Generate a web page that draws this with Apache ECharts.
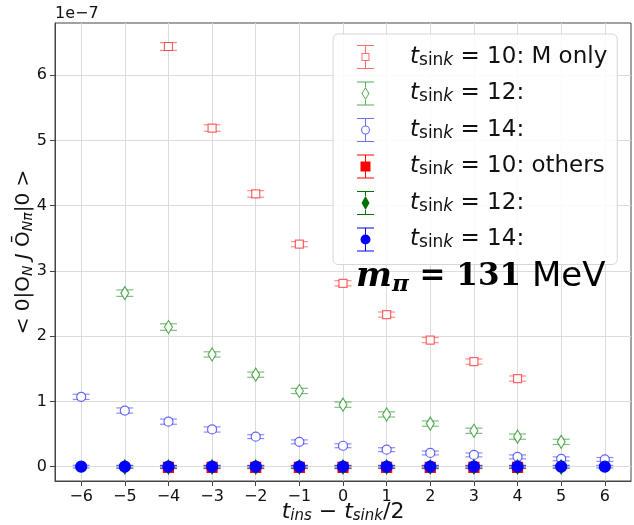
<!DOCTYPE html>
<html>
<head>
<meta charset="utf-8">
<script src="https://cdn.jsdelivr.net/npm/echarts@6/dist/echarts.min.js"></script>
<style>
  html, body { margin: 0; padding: 0; background: #fff; }
  #chart { width: 634px; height: 525px; }
</style>
</head>
<body>
<div id="chart"></div>
<script>
// Matrix element <0|O_N J Ō_Nπ|0> (units of 1e-7) vs insertion time
const xTicks = [-6, -5, -4, -3, -2, -1, 0, 1, 2, 3, 4, 5, 6];
const yTicks = [0, 1, 2, 3, 4, 5, 6];

// t_sink = 10 (x = -4..4), 12 (x = -5..5), 14 (x = -6..6)
const tIns10 = [-4, -3, -2, -1, 0, 1, 2, 3, 4];
const tIns12 = [-5, -4, -3, -2, -1, 0, 1, 2, 3, 4, 5];
const tIns14 = [-6, -5, -4, -3, -2, -1, 0, 1, 2, 3, 4, 5, 6];

// "M only" contribution
const mOnly10 = [6.44, 5.19, 4.18, 3.41, 2.81, 2.33, 1.94, 1.61, 1.35];
const mOnly10Err = [0.06, 0.05, 0.05, 0.04, 0.04, 0.04, 0.04, 0.04, 0.04];
const mOnly12 = [2.66, 2.14, 1.72, 1.41, 1.16, 0.95, 0.80, 0.66, 0.55, 0.46, 0.38];
const mOnly12Err = [0.05, 0.05, 0.04, 0.04, 0.04, 0.04, 0.04, 0.04, 0.04, 0.04, 0.04];
const mOnly14 = [1.07, 0.86, 0.69, 0.57, 0.46, 0.38, 0.32, 0.26, 0.21, 0.18, 0.15, 0.12, 0.11];
const mOnly14Err = [0.04, 0.04, 0.04, 0.04, 0.03, 0.03, 0.03, 0.03, 0.03, 0.03, 0.03, 0.03, 0.03];

// remaining contributions
const others10 = [-0.01, -0.01, -0.01, -0.01, -0.01, -0.01, -0.01, -0.01, -0.01];
const others10Err = [0.02, 0.02, 0.02, 0.02, 0.02, 0.02, 0.02, 0.02, 0.02];
const others12 = [-0.005, -0.005, -0.005, -0.005, -0.005, -0.005, -0.005, -0.005, -0.005, -0.005, -0.005];
const others12Err = [0.02, 0.02, 0.02, 0.02, 0.02, 0.02, 0.02, 0.02, 0.02, 0.02, 0.02];
const others14 = [0.0, 0.0, 0.0, 0.0, 0.0, 0.0, 0.0, 0.0, 0.0, 0.0, 0.0, 0.0, 0.0];
const others14Err = [0.02, 0.02, 0.02, 0.02, 0.02, 0.02, 0.02, 0.02, 0.02, 0.02, 0.02, 0.02, 0.02];

const legendText = {
  M10: '{t|t}{s|sin}{k|k}{n| = 10: M only}',
  M12: '{t|t}{s|sin}{k|k}{n| = 12:}',
  M14: '{t|t}{s|sin}{k|k}{n| = 14:}',
  O10: '{t|t}{s|sin}{k|k}{n| = 10: others}',
  O12: '{t|t}{s|sin}{k|k}{n| = 12:}',
  O14: '{t|t}{s|sin}{k|k}{n| = 14:}'
};

function rows(xs, ys, es) {
  return xs.map((x, i) => [x, ys[i], es[i]]);
}

function errorBars(cap, color, width) {
  return function (params, api) {
    const x = api.value(0), y = api.value(1), e = api.value(2);
    const hi = api.coord([x, y + e]);
    const lo = api.coord([x, y - e]);
    const style = { stroke: color, lineWidth: width, fill: null };
    return {
      type: 'group',
      children: [
        { type: 'line', shape: { x1: hi[0], y1: hi[1], x2: lo[0], y2: lo[1] }, style: style },
        { type: 'line', shape: { x1: hi[0] - cap, y1: hi[1], x2: hi[0] + cap, y2: hi[1] }, style: style },
        { type: 'line', shape: { x1: lo[0] - cap, y1: lo[1], x2: lo[0] + cap, y2: lo[1] }, style: style }
      ]
    };
  };
}

// legend glyphs: error bar with marker, 170 x 240 box
const capTop = 'M0 0H170V10H0Z';
const capBot = 'M0 230H170V240H0Z';
function stems(top, bot) {
  return 'M80 10H90V' + top + 'H80Z M80 ' + bot + 'H90V230H80Z';
}
const icons = {
  M10: 'path://' + capTop + capBot + stems(80, 160) +
       'M45 80H125V160H45Z M55 90V150H115V90Z',
  M12: 'path://' + capTop + capBot + stems(55, 185) +
       'M85 55L125 120L85 185L45 120Z M85 70L56 120L85 170L114 120Z',
  M14: 'path://' + capTop + capBot + stems(75, 165) +
       'M40 120A45 45 0 1 1 130 120A45 45 0 1 1 40 120Z M51 120A34 34 0 1 0 119 120A34 34 0 1 0 51 120Z',
  O10: 'path://' + capTop + capBot + stems(70, 170) + 'M35 70H135V170H35Z',
  O12: 'path://' + capTop + capBot + stems(50, 190) + 'M85 50L125 120L85 190L45 120Z',
  O14: 'path://' + capTop + capBot + stems(70, 170) +
       'M35 120A50 50 0 1 1 135 120A50 50 0 1 1 35 120Z'
};

const sets = [
  { name: 'M10', data: rows(tIns10, mOnly10, mOnly10Err), symbol: 'rect', size: 8,
    edge: 'rgba(255,0,0,0.6)', face: '#ffffff', bar: 'rgba(255,0,0,0.45)', legend: 'rgba(255,60,60,0.75)' },
  { name: 'M12', data: rows(tIns12, mOnly12, mOnly12Err), symbol: 'diamond', size: [8, 13],
    edge: 'rgba(0,128,0,0.65)', face: '#ffffff', bar: 'rgba(0,128,0,0.5)', legend: 'rgba(40,150,40,0.8)' },
  { name: 'M14', data: rows(tIns14, mOnly14, mOnly14Err), symbol: 'circle', size: 9,
    edge: 'rgba(0,0,255,0.6)', face: '#ffffff', bar: 'rgba(0,0,255,0.45)', legend: 'rgba(60,60,255,0.75)' },
  { name: 'O10', data: rows(tIns10, others10, others10Err), symbol: 'rect', size: 10,
    edge: '#ff0000', face: '#ff0000', bar: 'rgba(255,0,0,0.5)', legend: '#ff0000' },
  { name: 'O12', data: rows(tIns12, others12, others12Err), symbol: 'diamond', size: [8, 14],
    edge: '#007000', face: '#007000', bar: 'rgba(0,128,0,0.5)', legend: '#007000' },
  { name: 'O14', data: rows(tIns14, others14, others14Err), symbol: 'circle', size: 11,
    edge: '#0000ff', face: '#0000ff', bar: 'rgba(0,0,255,0.5)', legend: '#0000ff' }
];

const series = [];
sets.forEach((s, k) => {
  series.push({
    name: s.name,
    type: 'custom',
    renderItem: errorBars(8.5, s.bar, 1.2),
    encode: { x: 0, y: 1 },
    data: s.data,
    z: 2 + 2 * k,
    silent: true,
    animation: false
  });
  series.push({
    name: s.name,
    type: 'scatter',
    data: s.data,
    symbol: s.symbol,
    symbolSize: s.size,
    itemStyle: { color: s.face, borderColor: s.edge, borderWidth: 1.2, opacity: 1 },
    z: 3 + 2 * k,
    animation: false
  });
});

const tickFont = { fontFamily: 'DejaVu Sans', fontSize: 16, color: '#111' };

const option = {
  animation: false,
  backgroundColor: '#ffffff',
  grid: {
    left: 55, right: 3, top: 23, bottom: 44,
    containLabel: false, outerBoundsMode: 'none',
    show: true, borderColor: '#444', borderWidth: 1, backgroundColor: 'transparent'
  },
  xAxis: {
    type: 'value',
    min: -6.6, max: 6.6,
    axisLine: { show: true, onZero: false, lineStyle: { color: '#444', width: 1 } },
    axisTick: { show: true, length: 5, lineStyle: { color: '#444' }, customValues: xTicks },
    axisLabel: {
      customValues: xTicks, margin: 8, ...tickFont,
      formatter: v => (v < 0 ? '\u2212' + Math.abs(v) : String(v))
    },
    splitLine: { show: true, lineStyle: { color: '#dcdcdc', width: 1 } },
    name: '{t|t}{s|ins}{n| \u2212 }{t|t}{s|sink}{n|/2}',
    nameLocation: 'middle',
    nameMoveOverlap: false,
    nameGap: 19,
    nameTextStyle: {
      rich: {
        t: { fontFamily: 'DejaVu Sans', fontStyle: 'italic', fontSize: 22, color: '#111' },
        s: { fontFamily: 'DejaVu Sans', fontStyle: 'italic', fontSize: 15, color: '#111', padding: [9, 0, 0, 0] },
        n: { fontFamily: 'DejaVu Sans', fontSize: 22, color: '#111' }
      }
    }
  },
  yAxis: {
    type: 'value',
    min: -0.22, max: 6.8,
    axisLine: { show: true, onZero: false, lineStyle: { color: '#444', width: 1 } },
    axisTick: { show: true, length: 5, lineStyle: { color: '#444' }, customValues: yTicks },
    axisLabel: { customValues: yTicks, margin: 8, ...tickFont, formatter: v => String(v) },
    splitLine: { show: true, lineStyle: { color: '#dcdcdc', width: 1 } },
    name: '{n|< 0|O}{s|N}{j| J }{n|\u014C}{s|N\u03C0}{n||0 >}',
    nameLocation: 'middle',
    nameMoveOverlap: false,
    nameRotate: 90,
    nameGap: 20,
    nameTextStyle: {
      rich: {
        n: { fontFamily: 'DejaVu Sans', fontSize: 20, color: '#111' },
        j: { fontFamily: 'DejaVu Sans', fontStyle: 'italic', fontSize: 20, color: '#111' },
        s: { fontFamily: 'DejaVu Sans', fontStyle: 'italic', fontSize: 14, color: '#111', padding: [8, 0, 0, 0] }
      }
    }
  },
  legend: {
    orient: 'vertical',
    left: 333, top: 34,
    padding: [11, 10, 13, 24],
    itemWidth: 17, itemHeight: 24, itemGap: 12.5,
    backgroundColor: 'rgba(255,255,255,0.85)',
    borderColor: '#d6d6d6', borderWidth: 1, borderRadius: 5,
    selectedMode: false,
    data: sets.map(s => ({ name: s.name, icon: icons[s.name], itemStyle: { color: s.legend, borderWidth: 0 } })),
    formatter: name => legendText[name],
    textStyle: {
      padding: [0, 0, 0, 31],
      rich: {
        t: { fontFamily: 'DejaVu Sans', fontStyle: 'italic', fontSize: 23, lineHeight: 24, color: '#111' },
        s: { fontFamily: 'DejaVu Sans', fontSize: 17, lineHeight: 17, verticalAlign: 'bottom', color: '#111' },
        k: { fontFamily: 'DejaVu Sans', fontStyle: 'italic', fontSize: 17, lineHeight: 17, verticalAlign: 'bottom', color: '#111' },
        n: { fontFamily: 'DejaVu Sans', fontSize: 23, lineHeight: 24, color: '#111' }
      }
    }
  },
  graphic: [
    {
      type: 'text', left: 55, top: 6,
      style: { text: '1e\u22127', fontFamily: 'DejaVu Sans', fontSize: 16, fill: '#111' }
    },
    {
      type: 'text', left: 356, top: 260, z: 100,
      style: {
        text: '{m|m}{p|\u03C0}{e| = 131}{u| MeV}',
        rich: {
          m: { fontFamily: 'DejaVu Serif', fontStyle: 'italic', fontWeight: 'bold', fontSize: 34, fill: '#000' },
          p: { fontFamily: 'DejaVu Serif', fontStyle: 'italic', fontWeight: 'bold', fontSize: 23, fill: '#000', padding: [16, 0, 0, 0] },
          e: { fontFamily: 'DejaVu Serif', fontWeight: 'bold', fontSize: 31, fill: '#000' },
          u: { fontFamily: 'DejaVu Sans', fontSize: 34, fill: '#000' }
        }
      }
    }
  ],
  series: series
};

const chart = echarts.init(document.getElementById('chart'), null, { renderer: 'canvas' });
chart.setOption(option);
</script>
</body>
</html>
